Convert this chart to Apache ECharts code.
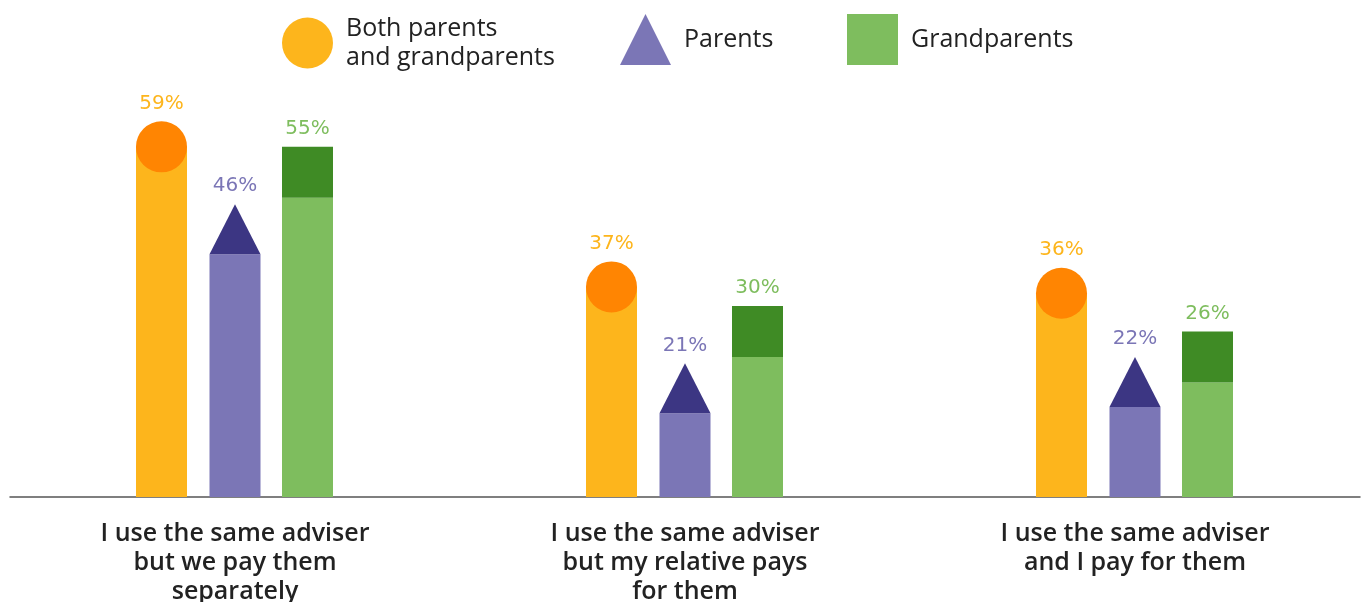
<!DOCTYPE html>
<html>
<head>
<meta charset="utf-8">
<script src="https://cdn.jsdelivr.net/npm/echarts@6/dist/echarts.min.js"></script>
<style>
  html, body { margin: 0; padding: 0; background: #fff; }
  #chart { width: 1362px; height: 602px; }
</style>
</head>
<body>
<div id="chart"></div>
<script>
// Survey answers (percent of respondents)
const categories = [
  'I use the same adviser\nbut we pay them\nseparately',
  'I use the same adviser\nbut my relative pays\nfor them',
  'I use the same adviser\nand I pay for them'
];
const seriesNames = ['Both parents\nand grandparents', 'Parents', 'Grandparents'];
const bothValues = [59, 37, 36];
const parentsValues = [46, 21, 22];
const grandparentsValues = [55, 30, 26];

const BAR_W = 51;
const HALF = BAR_W / 2;
const CAP = 51;
const LABEL_FONT = '20px "DejaVu Sans"';
const TEXT_FONT = 'Open Sans';

const colors = {
  both: { body: '#FDB51C', cap: '#FF8502' },
  parents: { body: '#7B76B6', cap: '#3C3683' },
  grand: { body: '#7EBD5E', cap: '#3F8B25' }
};

function geometry(api, offset) {
  const idx = api.value(0);
  const val = api.value(1);
  const base = api.coord([idx, 0]);
  const top = api.coord([idx, val]);
  return { cx: base[0] + offset, base: base[1], top: top[1], val: val };
}

function valueLabel(g, color) {
  return {
    type: 'text',
    style: {
      text: g.val + '%', x: g.cx, y: g.top - 18,
      align: 'center', verticalAlign: 'middle',
      font: LABEL_FONT, fill: color
    }
  };
}

function renderBoth(params, api) {
  const g = geometry(api, -73.5);
  return {
    type: 'group',
    children: [
      { type: 'rect', shape: { x: g.cx - HALF, y: g.top + HALF, width: BAR_W, height: g.base - g.top - HALF }, style: { fill: colors.both.body } },
      { type: 'circle', shape: { cx: g.cx, cy: g.top + HALF, r: HALF }, style: { fill: colors.both.cap } },
      valueLabel(g, colors.both.body)
    ]
  };
}

function renderParents(params, api) {
  const g = geometry(api, 0);
  return {
    type: 'group',
    children: [
      { type: 'rect', shape: { x: g.cx - HALF, y: g.top + 50, width: BAR_W, height: g.base - g.top - 50 }, style: { fill: colors.parents.body } },
      { type: 'polygon', shape: { points: [[g.cx, g.top], [g.cx + HALF, g.top + 50], [g.cx - HALF, g.top + 50]] }, style: { fill: colors.parents.cap } },
      valueLabel(g, colors.parents.body)
    ]
  };
}

function renderGrand(params, api) {
  const g = geometry(api, 72.5);
  return {
    type: 'group',
    children: [
      { type: 'rect', shape: { x: g.cx - HALF, y: g.top + CAP, width: BAR_W, height: g.base - g.top - CAP }, style: { fill: colors.grand.body } },
      { type: 'rect', shape: { x: g.cx - HALF, y: g.top, width: BAR_W, height: CAP }, style: { fill: colors.grand.cap } },
      valueLabel(g, colors.grand.body)
    ]
  };
}

function toData(values) {
  return values.map((v, i) => [i, v]);
}

function legendBlock(left, name, icon, color) {
  return {
    left: left, top: 9,
    orient: 'horizontal',
    selectedMode: false,
    itemWidth: 51, itemHeight: 51,
    data: [{ name: name, icon: icon, itemStyle: { color: color } }],
    textStyle: {
      fontFamily: TEXT_FONT, fontWeight: 500, fontSize: 25, color: '#222', lineHeight: 29,
      padding: [0, 0, 0, 8]
    }
  };
}

const chart = echarts.init(document.getElementById('chart'), null, { renderer: 'canvas' });
chart.setOption({
  animation: false,
  backgroundColor: '#fff',
  legend: [
    legendBlock(277, seriesNames[0], 'circle', colors.both.body),
    legendBlock(615, seriesNames[1], 'triangle', colors.parents.body),
    legendBlock(842, seriesNames[2], 'rect', colors.grand.body)
  ],
  grid: { left: 10, right: 2, top: 115, bottom: 105, containLabel: false, outerBoundsMode: 'none' },
  xAxis: {
    type: 'category',
    data: categories,
    axisLine: { lineStyle: { color: '#555', width: 1.5 } },
    axisTick: { show: false },
    axisLabel: {
      fontFamily: TEXT_FONT, fontWeight: 600, fontSize: 25, lineHeight: 29,
      color: '#222', margin: 22, interval: 0
    }
  },
  yAxis: { type: 'value', min: 0, max: 60, show: false, splitLine: { show: false } },
  series: [
    { name: seriesNames[0], type: 'custom', renderItem: renderBoth, data: toData(bothValues), itemStyle: { color: colors.both.body }, z: 1 },
    { name: seriesNames[1], type: 'custom', renderItem: renderParents, data: toData(parentsValues), itemStyle: { color: colors.parents.body }, z: 1 },
    { name: seriesNames[2], type: 'custom', renderItem: renderGrand, data: toData(grandparentsValues), itemStyle: { color: colors.grand.body }, z: 1 }
  ]
});
</script>
</body>
</html>
